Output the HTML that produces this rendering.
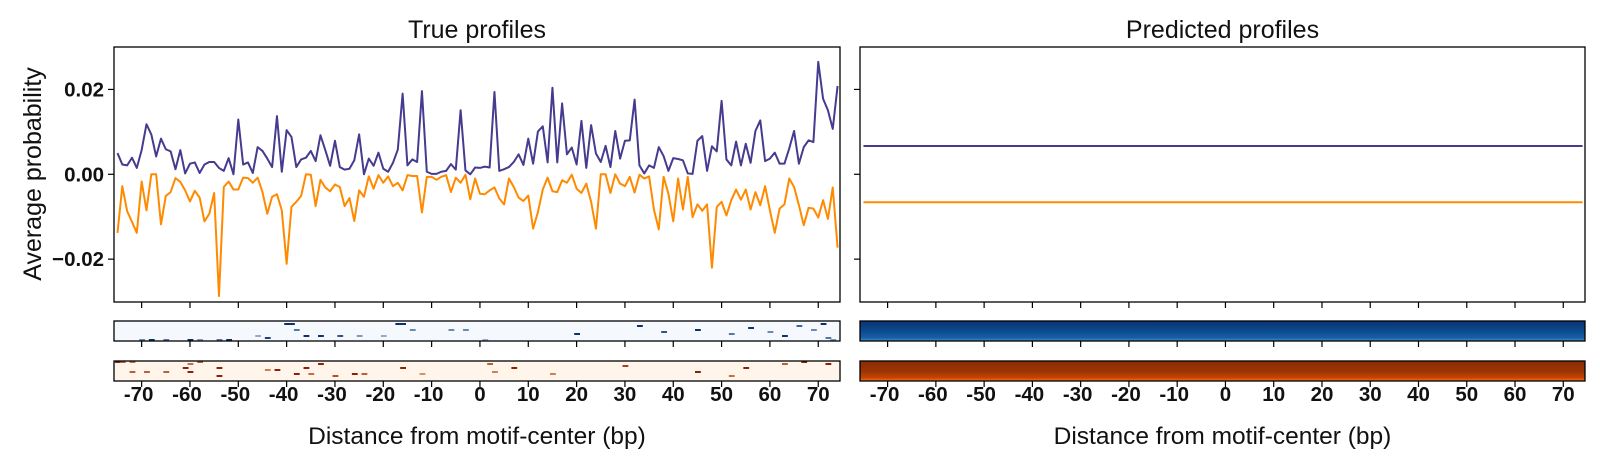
<!DOCTYPE html>
<html><head><meta charset="utf-8"><style>
body{margin:0;background:#fff}
svg{display:block;font-family:"Liberation Sans",sans-serif}
</style></head><body>
<svg id="c" width="1600" height="462" viewBox="0 0 1600 462">
<defs>
<linearGradient id="gb" x1="0" y1="0" x2="0" y2="1">
<stop offset="0" stop-color="#0a3572"/><stop offset="0.5" stop-color="#0b4a8f"/><stop offset="0.85" stop-color="#1661a8"/><stop offset="1" stop-color="#4f95cc"/></linearGradient>
<linearGradient id="go" x1="0" y1="0" x2="0" y2="1">
<stop offset="0" stop-color="#8a2c04"/><stop offset="0.5" stop-color="#9a3403"/><stop offset="0.85" stop-color="#c84502"/><stop offset="1" stop-color="#f47d2a"/></linearGradient>
</defs>
</svg>
<script>
const positions = [];
for (let i = -75; i <= 74; i++) positions.push(i);
const trueBlue = [.005,.0023,.0021,.0039,.0015,.0057,.0118,.0094,.0042,.0084,.0059,.0054,.0012,.0057,.0002,.0025,.0028,.0003,.0023,.0029,.0029,.0015,.0008,.0038,0,.0129,.0023,.0028,.0003,.0064,.0055,.0037,.0017,.0137,.0006,.0104,.0088,.0017,.0035,.0039,.0055,.0031,.0092,.0057,.002,.0079,.0017,.0011,.0013,.0033,.0094,0,.0037,.002,.0051,.0013,.0006,.0027,.0058,.019,.0021,.0035,.0029,.0196,.0006,.0001,.0001,.0006,.0008,.0024,.0011,.0151,.0009,0,.0016,.0015,.0018,.0016,.0194,.0008,.0012,.0017,.0029,.0047,.0022,.0084,.0025,.0101,.0113,.0028,.0204,.0028,.0167,.0047,.0063,.0023,.0126,.0015,.0116,.0049,.0029,.0067,.0017,.0102,.0037,.0079,.008,.0176,.0021,.0002,.0021,.0015,.0064,.0043,.0008,.0038,.0036,.0033,.0002,.0001,.0079,.009,.0008,.0066,.0054,.0173,.0035,.0021,.0077,.0021,.0072,.0027,.0102,.0127,.0031,.0037,.0051,.0025,.0025,.0061,.0102,.0025,.0064,.008,.0076,.0265,.0178,.0151,.0107,.0208];
const trueOrange = [-.0138,-.0028,-.0087,-.0112,-.0138,-.0017,-.0085,0,0,-.0118,-.0051,-.0042,-.0009,-.0018,-.0038,-.0064,-.0039,-.0055,-.0111,-.0093,-.0044,-.0287,-.003,-.0017,-.0036,-.0036,-.0008,-.0009,-.002,-.0008,-.0042,-.0093,-.0053,-.0047,-.0085,-.0211,-.0077,-.0065,-.0051,0,-.0001,-.0075,-.0013,-.0031,-.004,-.0024,-.003,-.0075,-.0056,-.011,-.0038,-.0053,-.0005,-.0034,-.0002,-.002,-.0005,-.0028,-.002,-.0038,-.0002,-.0004,-.0004,-.009,-.0006,-.0006,-.0013,-.0006,-.0002,-.0042,-.0008,-.002,-.0001,-.0059,-.001,-.0046,-.0047,-.0038,-.0031,-.0057,-.0071,-.001,-.003,-.0055,-.0063,-.005,-.0128,-.0089,-.0036,-.0008,-.004,-.0042,-.0014,-.002,-.0001,-.0034,-.0044,-.0022,-.0065,-.0128,0,0,-.0044,0,-.0022,-.0028,-.0006,-.0043,-.0001,-.001,-.0005,-.0083,-.013,-.0006,-.0046,-.0111,-.001,-.0083,-.0006,-.0101,-.0071,-.0086,-.0071,-.022,-.0077,-.0065,-.0097,-.0061,-.0036,-.006,-.0036,-.0083,-.0042,-.0073,-.0028,-.0085,-.0138,-.0081,-.0071,-.001,-.003,-.0073,-.012,-.0079,-.0081,-.0102,-.0061,-.0105,-.0031,-.0173];
const predBlue = 0.00667;
const predOrange = -0.0066;
const yTicks = [0.02, 0, -0.02];
const yTickLabels = ["0.02", "0.00", "\u22120.02"];
const xTicks = [-70,-60,-50,-40,-30,-20,-10,0,10,20,30,40,50,60,70];
const heatBlue = [[-40,1,1],[-39,1,1],[-38,4,0.6],[-70,9,0.5],[-68,9,1],[-65,9,0.6],[-60,9,1],[-58,9,0.4],[-54,9,0.6],[-52,9,1],[-46,7,0.3],[-44,8,0.9],[-36,7,1],[-33,7,1],[-29,7,0.8],[-25,7,0.4],[-20,7,0.3],[-17,1,1],[-16,1,1],[-14,4,0.5],[-6,4,0.5],[-3,4,0.5],[1,9,0.3],[20,6,1],[33,2,1],[38,5,0.8],[45,4,1],[52,6,0.6],[56,3,1],[60,5,0.5],[63,7,1],[66,2,0.7],[69,4,0.5],[71,1,1],[72,8,0.6],[73,9,0.4]];
const heatOrange = [[-75,0,1],[-74,0,0.6],[-72,0,0.5],[-60,1,0.5],[-58,0,0.6],[-61,3,1],[-54,3,1],[-54,7,1],[-72,5,0.6],[-69,5,0.6],[-65,5,0.6],[-60,5,1],[-44,4,0.4],[-42,4,1],[-38,6,1],[-36,3,1],[-33,1,1],[-35,6,0.5],[-30,7,0.7],[-26,6,1],[-24,6,0.6],[-16,3,1],[-12,6,0.3],[2,1,0.6],[3,5,0.4],[7,3,1],[15,6,0.4],[30,2,0.8],[45,5,1],[52,7,0.5],[55,3,1],[63,1,0.6],[67,0,1],[72,1,1]];

const NS = "http://www.w3.org/2000/svg";
const svg = document.getElementById('c');
function mk(tag, attrs, parent){const e=document.createElementNS(NS,tag);for(const k in attrs)e.setAttribute(k,attrs[k]);(parent||svg).appendChild(e);return e;}
const XMIN=-75.72, XMAX=74.5, YMIN=-0.0301, YMAX=0.030;
const TOP=47, BOT=302;
function xScale(p, x0, x1){return x0+(p-XMIN)/(XMAX-XMIN)*(x1-x0);}
function yScale(v){return BOT-(v-YMIN)/(YMAX-YMIN)*(BOT-TOP);}
const panels=[{x0:114,x1:840,name:'true',title:'True profiles'},{x0:860,x1:1585,name:'predicted',title:'Predicted profiles'}];
panels.forEach((P,pi)=>{
  const g=mk('g',{});
  
  
  const t=mk('text',{x:(P.x0+P.x1)/2,y:38,'text-anchor':'middle','font-size':25,fill:'#111'},g);
  t.textContent=P.title;
  
  
  const lineFor=(vals,color,nm)=>{
    const d=vals.map((v,i)=>(i?'L':'M')+xScale(positions[i],P.x0,P.x1).toFixed(2)+','+yScale(v).toFixed(2)).join('');
    const l=mk('path',{d:d,fill:'none',stroke:color,'stroke-width':2,'stroke-linejoin':'round'},g);
    
    
  };
  if(pi===0){lineFor(trueBlue,'#453b8f','true-positive-strand-line');lineFor(trueOrange,'#ff8a00','true-negative-strand-line');}
  else{lineFor(positions.map(()=>predBlue),'#453b8f','predicted-positive-strand-line');lineFor(positions.map(()=>predOrange),'#ff8a00','predicted-negative-strand-line');}
  const fr=mk('rect',{x:P.x0,y:TOP,width:P.x1-P.x0,height:BOT-TOP,fill:'none',stroke:'#000','stroke-width':1.3},g);
  
  
  yTicks.forEach((v,i)=>{
    mk('line',{x1:P.x0-6,x2:P.x0,y1:yScale(v),y2:yScale(v),stroke:'#000','stroke-width':1.2},g);
    if(pi===0){const tl=mk('text',{x:P.x0-10,y:yScale(v)+7,'text-anchor':'end','font-size':20.5,'font-weight':'bold',fill:'#111'},g);tl.textContent=yTickLabels[i];
      
      }
  });
  const strips=[{y:321,h:20,kind:'blue'},{y:361,h:20,kind:'orange'}];
  strips.forEach(S=>{
    const hg=mk('g',{},g);
    
    
    if(pi===0){
      mk('rect',{x:P.x0,y:S.y,width:P.x1-P.x0,height:S.h,fill:S.kind==='blue'?'#f5f9fe':'#fff5eb'},hg);
      const arr=S.kind==='blue'?heatBlue:heatOrange;
      arr.forEach(m=>{
        const c=S.kind==='blue'?`rgb(${Math.round(200-190*m[2])},${Math.round(225-175*m[2])},${Math.round(245-135*m[2])})`:`rgb(${Math.round(253-110*m[2])},${Math.round(190-160*m[2])},${Math.round(130-120*m[2])})`;
        const r=mk('rect',{x:xScale(m[0]-0.5,P.x0,P.x1),y:S.y+m[1]*2,width:5.8,height:2,fill:c},hg);
        
        
      });
    } else {
      mk('rect',{x:P.x0,y:S.y,width:P.x1-P.x0,height:S.h,fill:S.kind==='blue'?'url(#gb)':'url(#go)'},hg);
    }
    mk('rect',{x:P.x0,y:S.y,width:P.x1-P.x0,height:S.h,fill:'none',stroke:'#000','stroke-width':1.3},hg);
  });
  xTicks.forEach(v=>{
    const x=xScale(v,P.x0,P.x1);
    [BOT,341,381].forEach(yy=>mk('line',{x1:x,x2:x,y1:yy,y2:yy+6,stroke:'#000','stroke-width':1.2},g));
    const tl=mk('text',{x:x-(v<0?3:0),y:401,'text-anchor':'middle','font-size':20.5,'font-weight':'bold',fill:'#111'},g);
    tl.textContent=v<0?'-'+Math.abs(v):String(v);
    
    
  });
  const xl=mk('text',{x:(P.x0+P.x1)/2,y:444,'text-anchor':'middle','font-size':24.5,fill:'#111'},g);
  xl.textContent='Distance from motif-center (bp)';
  
  
});
const yl=mk('text',{x:0,y:0,transform:'translate(41,174) rotate(-90)','text-anchor':'middle','font-size':25,fill:'#111'});
yl.textContent='Average probability';


</script>
</body></html>
